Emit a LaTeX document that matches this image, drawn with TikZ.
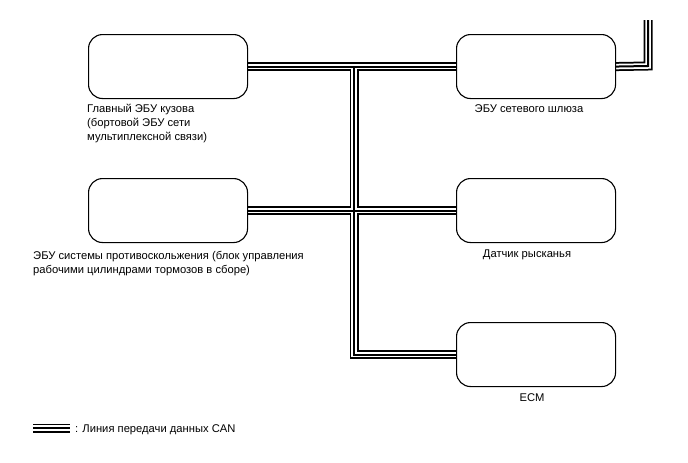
\documentclass[tikz,border=0pt]{standalone}
\usepackage{fontspec}
\setmainfont{Liberation Sans}
\begin{document}
\begin{tikzpicture}[x=1pt,y=-1pt,
 ecu/.style={draw,rounded corners=14pt,line width=1.1pt,minimum width=159pt,minimum height=64pt,inner sep=0pt,anchor=north west},
 lbl/.style={font=\fontsize{11.2}{14}\selectfont,inner sep=0pt,align=left},
 busA/.style={line width=9pt,black},
 busB/.style={line width=5.5pt,white},
 busC/.style={line width=2pt,black}]
\useasboundingbox (0,0) rectangle (688,463);
% placeholders for coordinates
\path (88,34) node[ecu,draw=none] (body) {};
\path (456,34) node[ecu,draw=none] (gw) {};
\path (88,178) node[ecu,draw=none] (brake) {};
\path (456,178) node[ecu,draw=none] (yaw) {};
\path (456,322) node[ecu,draw=none] (ecm) {};
\coordinate (j1) at (354,66);
\coordinate (j3) at (j1 |- ecm.west);
\coordinate (gwc) at (648,66);
\coordinate (gwtop) at (648,20);
\coordinate (legA) at (33,428);
\coordinate (legB) at (70,428);
% bus lines
\foreach \s in {busA,busB,busC}{
  \draw[\s] (body.east) -- (gw.west);
  \draw[\s] (j1) -- (j3) -- (ecm.west);
  \draw[\s] (brake.east) -- (yaw.west);
  \draw[\s] (gw.east) -- (gwc) -- (gwtop);
  \draw[\s] (legA) -- (legB);
}
% boxes
\node[ecu] at (88,34) {};
\node[ecu] at (456,34) {};
\node[ecu] at (88,178) {};
\node[ecu] at (456,178) {};
\node[ecu] at (456,322) {};
% labels
\node[lbl,anchor=base west] (tbody) at (87,140) {Главный ЭБУ кузова\\(бортовой ЭБУ сети\\мультиплексной связи)};
\node[lbl,anchor=base] (tgw) at (529,112) {ЭБУ сетевого шлюза};
\node[lbl,anchor=base west] (tbrake) at (33,273) {ЭБУ системы противоскольжения (блок управления\\рабочими цилиндрами тормозов в сборе)};
\node[lbl,anchor=base] (tyaw) at (527,257) {Датчик рысканья};
\node[lbl,anchor=base] (tecm) at (532,401) {ECM};
\node[lbl,anchor=base west] (tleg) at (75,432) {: Линия передачи данных CAN};
\end{tikzpicture}
\end{document}
